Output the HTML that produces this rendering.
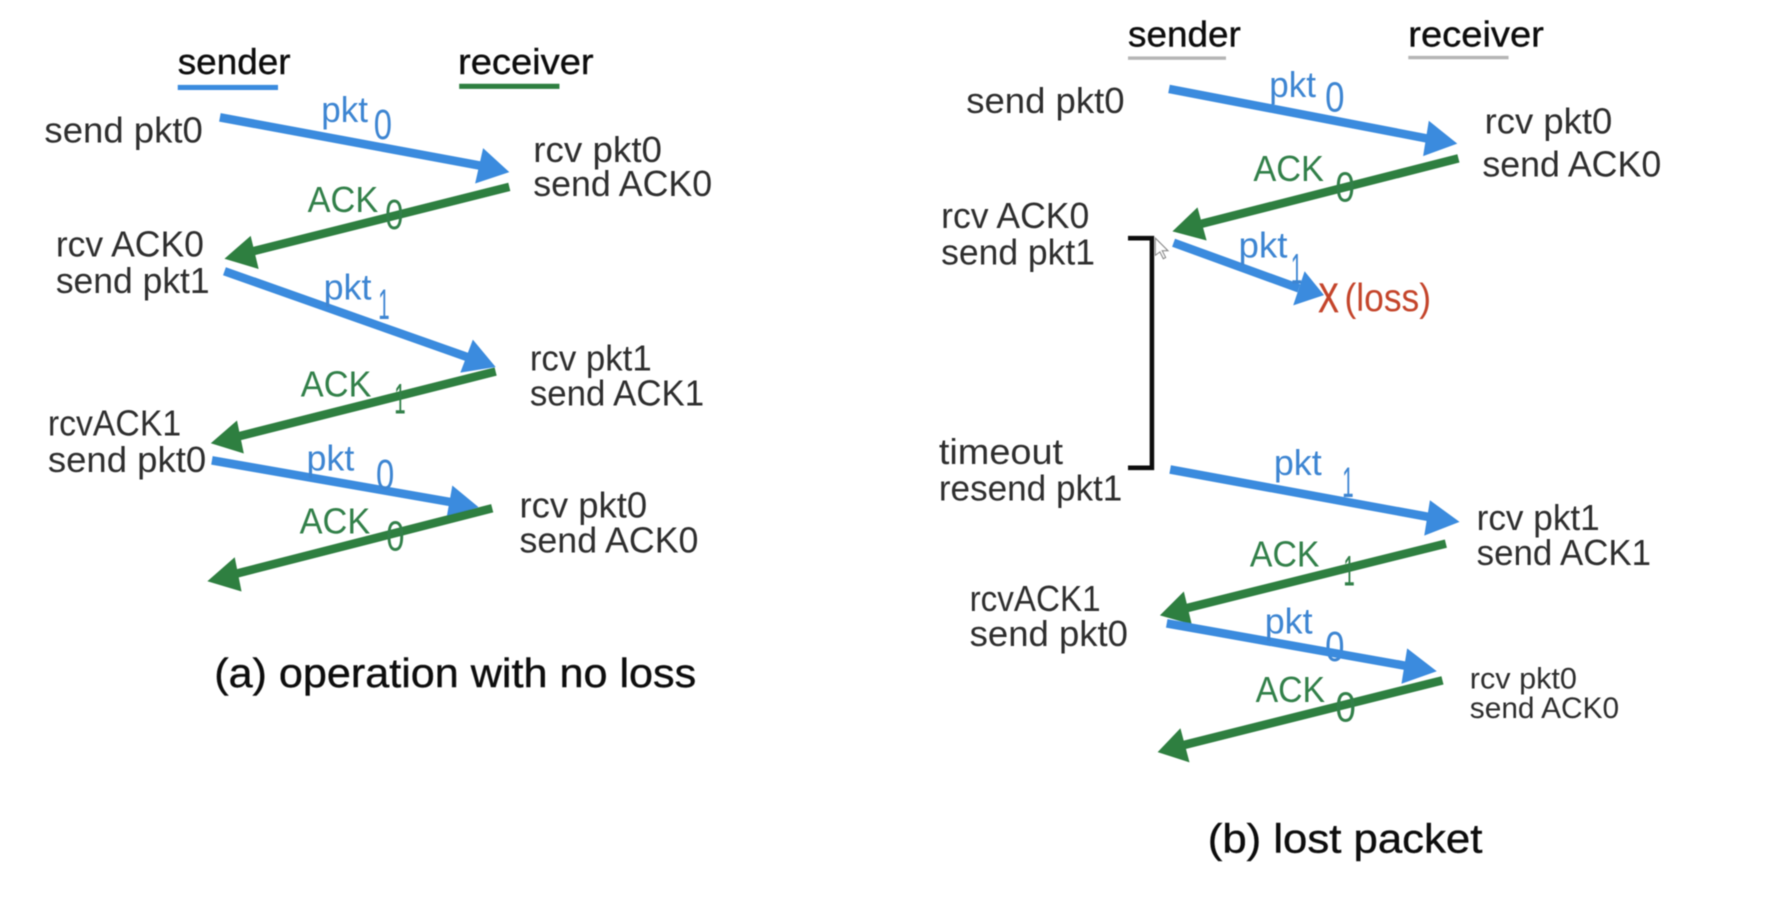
<!DOCTYPE html>
<html>
<head>
<meta charset="utf-8">
<style>
html,body{margin:0;padding:0;background:#fff;width:1786px;height:898px;overflow:hidden}
svg{display:block}
text{font-family:"Liberation Sans",sans-serif;font-size:32px;fill:#2e2e2e}
.h{fill:#111;stroke:#111;stroke-width:.35}
.d{font-size:37px}
.b{fill:#3d85d2}
.g{fill:#33804a}
.r{fill:#c4452c}
.line-b{stroke:#3a8bde;stroke-width:7.500;fill:none}
.line-g{stroke:#2f7f40;stroke-width:7.500;fill:none}
.head-b{fill:#3a8bde}
.head-g{fill:#2f7f40}
</style>
</head>
<body>
<svg width="1786" height="898" viewBox="0 0 1567.500 788" preserveAspectRatio="none" xmlns="http://www.w3.org/2000/svg">
<defs><filter id="s" x="-5%" y="-5%" width="110%" height="110%"><feGaussianBlur stdDeviation="0.45"/></filter></defs>
<rect width="1567.500" height="788" fill="#fff"/>
<g filter="url(#s)">
<text class="b d" x="1163" y="580" textLength="17" lengthAdjust="spacingAndGlyphs">0</text>

<!-- underlines -->
<rect x="156" y="74.500" width="88" height="4.500" fill="#3a8bde"/>
<rect x="403" y="73.500" width="88" height="4.500" fill="#2f7f40"/>
<rect x="990" y="49.500" width="86" height="3" fill="#b5b5b5"/>
<rect x="1236" y="49" width="88" height="3" fill="#b5b5b5"/>

<!-- left arrows -->
<line class="line-b" x1="193" y1="103" x2="425" y2="146"/>
<polygon class="head-b" points="447,151 424,130 417,161"/>
<line class="line-g" x1="447" y1="164" x2="220" y2="221"/>
<polygon class="head-g" points="197,227 220,207 227,236"/>
<line class="line-b" x1="197" y1="238" x2="412" y2="314"/>
<polygon class="head-b" points="435,322 415,298 404,327"/>
<line class="line-g" x1="435" y1="326" x2="205" y2="384"/>
<polygon class="head-g" points="185,389 208,369 214,398"/>
<line class="line-b" x1="186" y1="404" x2="398" y2="441"/>
<polygon class="head-b" points="420,445 397,426 392,454"/>
<line class="line-g" x1="432" y1="446" x2="205" y2="504"/>
<polygon class="head-g" points="182,510 206,489 212,519"/>

<!-- right arrows -->
<line class="line-b" x1="1026" y1="78" x2="1255" y2="122"/>
<polygon class="head-b" points="1279,126 1254,106 1249,137"/>
<line class="line-g" x1="1280" y1="139" x2="1052" y2="197"/>
<polygon class="head-g" points="1029,203 1051,182 1059,211"/>
<line class="line-b" x1="1030" y1="213" x2="1140" y2="253"/>
<polygon class="head-b" points="1162,259 1145,238 1135,268"/>
<line class="line-b" x1="1027" y1="412" x2="1256" y2="454"/>
<polygon class="head-b" points="1281,458 1255,439 1250,470"/>
<line class="line-g" x1="1269" y1="477" x2="1040" y2="534"/>
<polygon class="head-g" points="1018,540 1039,519 1046,548"/>
<line class="line-b" x1="1024" y1="547" x2="1238" y2="585"/>
<polygon class="head-b" points="1261,589 1235,569 1230,600"/>
<line class="line-g" x1="1266" y1="597" x2="1038" y2="654"/>
<polygon class="head-g" points="1016,660 1036,639 1044,669"/>

<!-- bracket -->
<path d="M990 209H1011V410.500H990" fill="none" stroke="#111" stroke-width="4"/>
<path d="M1014 209l0 15 4-3 3 6 2-1-3-6 5 0z" fill="#fff" stroke="#888" stroke-width="1"/>

<!-- left labels -->
<text class="h" x="156" y="65" textLength="99" lengthAdjust="spacingAndGlyphs">sender</text>
<text class="h" x="402" y="65" textLength="119" lengthAdjust="spacingAndGlyphs">receiver</text>
<text x="39" y="125" textLength="139" lengthAdjust="spacingAndGlyphs">send pkt0</text>
<text class="b" x="282" y="107" textLength="41" lengthAdjust="spacingAndGlyphs">pkt</text>
<text class="b d" x="328" y="122" textLength="16" lengthAdjust="spacingAndGlyphs">0</text>
<text x="468" y="142" textLength="113" lengthAdjust="spacingAndGlyphs">rcv pkt0</text>
<text x="468" y="172" textLength="157" lengthAdjust="spacingAndGlyphs">send ACK0</text>
<text class="g" x="270" y="186" textLength="62" lengthAdjust="spacingAndGlyphs">ACK</text>
<text class="g d" x="338" y="201" textLength="16" lengthAdjust="spacingAndGlyphs">0</text>
<text x="49" y="225" textLength="130" lengthAdjust="spacingAndGlyphs">rcv ACK0</text>
<text x="49" y="257" textLength="135" lengthAdjust="spacingAndGlyphs">send pkt1</text>
<text class="b" x="284" y="263" textLength="42" lengthAdjust="spacingAndGlyphs">pkt</text>
<text class="b d" x="332" y="280" textLength="10" lengthAdjust="spacingAndGlyphs">1</text>
<text x="465" y="325" textLength="107" lengthAdjust="spacingAndGlyphs">rcv pkt1</text>
<text x="465" y="356" textLength="153" lengthAdjust="spacingAndGlyphs">send ACK1</text>
<text class="g" x="264" y="348" textLength="62" lengthAdjust="spacingAndGlyphs">ACK</text>
<text class="g d" x="346" y="363" textLength="10" lengthAdjust="spacingAndGlyphs">1</text>
<text x="42" y="382" textLength="117" lengthAdjust="spacingAndGlyphs">rcvACK1</text>
<text x="42" y="414" textLength="139" lengthAdjust="spacingAndGlyphs">send pkt0</text>
<text class="b" x="269" y="413" textLength="42" lengthAdjust="spacingAndGlyphs">pkt</text>
<text class="b d" x="330" y="429" textLength="16" lengthAdjust="spacingAndGlyphs">0</text>
<text x="456" y="454" textLength="112" lengthAdjust="spacingAndGlyphs">rcv pkt0</text>
<text x="456" y="485" textLength="157" lengthAdjust="spacingAndGlyphs">send ACK0</text>
<text class="g" x="263" y="468" textLength="62" lengthAdjust="spacingAndGlyphs">ACK</text>
<text class="g d" x="339" y="483" textLength="16" lengthAdjust="spacingAndGlyphs">0</text>
<text class="h" x="188" y="603" textLength="423" lengthAdjust="spacingAndGlyphs" style="font-size:36px">(a) operation with no loss</text>

<!-- right labels -->
<text class="h" x="990" y="41" textLength="99" lengthAdjust="spacingAndGlyphs">sender</text>
<text class="h" x="1236" y="41" textLength="119" lengthAdjust="spacingAndGlyphs">receiver</text>
<text x="848" y="99" textLength="139" lengthAdjust="spacingAndGlyphs">send pkt0</text>
<text class="b" x="1114" y="85" textLength="41" lengthAdjust="spacingAndGlyphs">pkt</text>
<text class="b d" x="1163" y="98" textLength="17" lengthAdjust="spacingAndGlyphs">0</text>
<text x="1303" y="117" textLength="112" lengthAdjust="spacingAndGlyphs">rcv pkt0</text>
<text x="1301" y="155" textLength="157" lengthAdjust="spacingAndGlyphs">send ACK0</text>
<text class="g" x="1100" y="159" textLength="62" lengthAdjust="spacingAndGlyphs">ACK</text>
<text class="g d" x="1172" y="177" textLength="17" lengthAdjust="spacingAndGlyphs">0</text>
<text x="826" y="200" textLength="130" lengthAdjust="spacingAndGlyphs">rcv ACK0</text>
<text x="826" y="232" textLength="135" lengthAdjust="spacingAndGlyphs">send pkt1</text>
<text class="b" x="1087" y="226" textLength="43" lengthAdjust="spacingAndGlyphs">pkt</text>
<text class="b d" x="1133" y="249" textLength="10" lengthAdjust="spacingAndGlyphs">1</text>
<text class="r" x="1157" y="274" textLength="18" lengthAdjust="spacingAndGlyphs" style="font-size:36px;stroke:#c4452c;stroke-width:.6">X</text>
<text class="r" x="1180" y="273" textLength="76" lengthAdjust="spacingAndGlyphs" style="font-size:34px">(loss)</text>
<text x="824" y="407" textLength="109" lengthAdjust="spacingAndGlyphs">timeout</text>
<text x="824" y="439" textLength="161" lengthAdjust="spacingAndGlyphs">resend pkt1</text>
<text class="b" x="1118" y="417" textLength="42" lengthAdjust="spacingAndGlyphs">pkt</text>
<text class="b d" x="1178" y="436" textLength="10" lengthAdjust="spacingAndGlyphs">1</text>
<text x="1296" y="465" textLength="108" lengthAdjust="spacingAndGlyphs">rcv pkt1</text>
<text x="1296" y="496" textLength="153" lengthAdjust="spacingAndGlyphs">send ACK1</text>
<text class="g" x="1097" y="497" textLength="61" lengthAdjust="spacingAndGlyphs">ACK</text>
<text class="g d" x="1179" y="514" textLength="10" lengthAdjust="spacingAndGlyphs">1</text>
<text x="851" y="536" textLength="115" lengthAdjust="spacingAndGlyphs">rcvACK1</text>
<text x="851" y="567" textLength="139" lengthAdjust="spacingAndGlyphs">send pkt0</text>
<text class="b" x="1110" y="556" textLength="42" lengthAdjust="spacingAndGlyphs">pkt</text>
<text x="1290" y="604" textLength="94" lengthAdjust="spacingAndGlyphs" style="font-size:26px">rcv pkt0</text>
<text x="1290" y="630" textLength="131" lengthAdjust="spacingAndGlyphs" style="font-size:26px">send ACK0</text>
<text class="g" x="1102" y="616" textLength="61" lengthAdjust="spacingAndGlyphs">ACK</text>
<text class="g d" x="1172" y="633" textLength="18" lengthAdjust="spacingAndGlyphs">0</text>
<text class="h" x="1060" y="748" textLength="241" lengthAdjust="spacingAndGlyphs" style="font-size:36px">(b) lost packet</text>
</g>
</svg>
</body>
</html>
